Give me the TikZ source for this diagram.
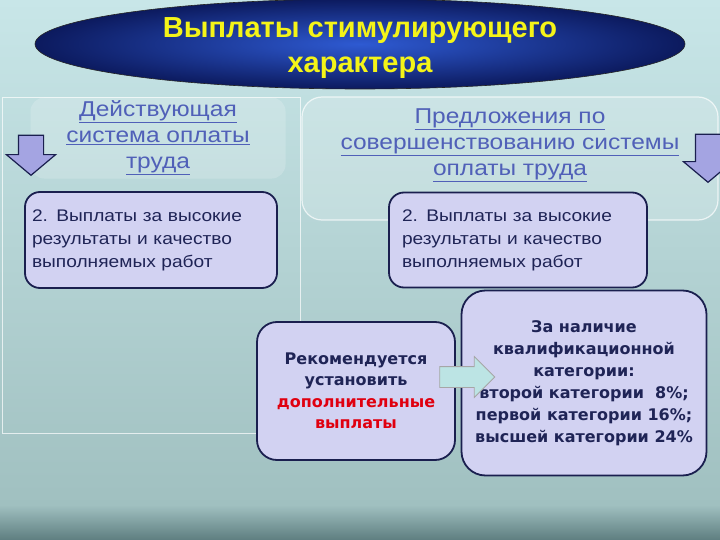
\documentclass[tikz,border=0pt]{standalone}
\usepackage{fontspec}
\setmainfont{Liberation Sans}
\newfontfamily\widefont[FakeStretch=1.14]{Liberation Sans}
\newfontfamily\catfont{DejaVu Sans}
\usetikzlibrary{positioning,shapes.geometric,shapes.arrows}
\definecolor{bgtop}{HTML}{C8E6E8}
\definecolor{bgmid}{HTML}{A0C0C0}
\definecolor{bgdark}{HTML}{5E7E80}
\definecolor{boxfill}{HTML}{D2D2F2}
\definecolor{boxline}{HTML}{1A1F4F}
\definecolor{boxtext}{HTML}{1F2456}
\definecolor{headblue}{HTML}{5060B8}
\definecolor{titleyel}{HTML}{F4F418}
\definecolor{ovalin}{HTML}{2E5AD2}
\definecolor{ovalout}{HTML}{0C1A5E}
\definecolor{arrowlav}{HTML}{A4A4E2}
\definecolor{arrowteal}{HTML}{BCE4E4}
\definecolor{redtext}{HTML}{E0000F}

\begin{document}
\begin{tikzpicture}[x=1pt,y=-1pt,
  headbox/.style={rounded corners=14pt,fill=white,fill opacity=0.18,text opacity=1,
    text=headblue,align=center,font=\widefont\fontsize{21.5}{26}\selectfont},
  infobox/.style={draw=boxline,line width=1.8pt,fill=boxfill,text=boxtext},
  downarrow/.style={single arrow,rotate=-90,draw=boxline,line width=1.2pt,fill=arrowlav,
    inner sep=12pt,single arrow head extend=12pt,single arrow tip angle=100}]
\useasboundingbox (0,0) rectangle (720,540);
% background
\shade[top color=bgtop,bottom color=bgmid] (0,0) rectangle (720,506);
\shade[top color=bgmid,bottom color=bgdark] (0,505) rectangle (720,540);
\draw[white,opacity=0.7,line width=0.8pt] (2,97) rectangle (300,433);

% title
\node (title) [ellipse,draw=black!85,line width=0.6pt,inner color=ovalin,outer color=ovalout,
  minimum width=650pt,minimum height=90pt] at (360,44) {};
\node (titletext) [text=titleyel,align=center,font=\bfseries\fontsize{29}{35}\selectfont]
  at (360,48) {Выплаты стимулирующего\\характера};

% column headings
\node (curhead) [headbox,minimum width=255pt,minimum height=80pt] at (158,138)
  {\underline{Действующая}\\\underline{система оплаты}\\\underline{труда}};
\draw[white,opacity=0.7,line width=1.2pt,fill=white,fill opacity=0.18,rounded corners=20pt]
  (302,97) rectangle (718,220);
\node (newhead) [headbox,fill=none] at (510,145)
  {\underline{Предложения по}\\\underline{совершенствованию системы}\\\underline{оплаты труда}};
\node (curarrow) [downarrow,minimum height=40pt,minimum width=48pt] at (31,150) {};
\node (newarrow) [downarrow,minimum height=48pt,minimum width=44pt] at (708,153) {};

% boxes
\node (curpay) [infobox,rounded corners=15pt,minimum width=252pt,minimum height=96pt,
  text width=238pt,inner xsep=7pt,align=left,font=\widefont\fontsize{16.8}{23}\selectfont]
  at (151,240) {2. Выплаты за высокие\\результаты и качество\\выполняемых работ};
\node (newpay) [infobox,rounded corners=15pt,minimum width=258pt,minimum height=95pt,
  text width=232pt,inner xsep=13pt,align=left,font=\widefont\fontsize{16.8}{23}\selectfont]
  at (518,240) {2. Выплаты за высокие\\результаты и качество\\выполняемых работ};
\node (advice) [infobox,rounded corners=20pt,minimum width=198pt,minimum height=138pt,
  align=center,font=\catfont\bfseries\fontsize{16}{21.5}\selectfont] at (356,391)
  {Рекомендуется\\установить\\\textcolor{redtext}{дополнительные}\\\textcolor{redtext}{выплаты}};
\node (category) [infobox,rounded corners=24pt,minimum width=245pt,minimum height=185pt,
  align=center,font=\catfont\bfseries\fontsize{16}{22}\selectfont] at (584,383)
  {За наличие\\квалификационной\\категории:\\второй категории~~8\%;\\первой категории 16\%;\\высшей категории 24\%};
\node (advarrow) [single arrow,draw=gray!70,line width=0.8pt,fill=arrowteal,inner sep=10pt,
  single arrow head extend=10pt,minimum height=55pt,minimum width=40pt] at (462,377) {};
\end{tikzpicture}
\end{document}
